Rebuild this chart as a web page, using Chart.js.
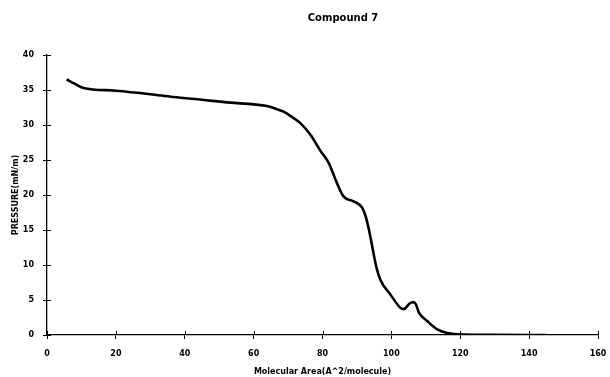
<!DOCTYPE html>
<html>
<head>
<meta charset="utf-8">
<script src="https://cdn.jsdelivr.net/npm/chart.js@4/dist/chart.umd.min.js"></script>
<style>
html,body{margin:0;padding:0;background:#fff;}
#wrap{width:610px;height:377px;position:relative;}
</style>
</head>
<body>
<div id="wrap"><canvas id="c" width="610" height="377"></canvas></div>
<script>
const chartTitle = "Compound 7";
const xAxisTitle = "Molecular Area(A^2/molecule)";
const yAxisTitle = "PRESSURE(mN/m)";
const xTicks = [0, 20, 40, 60, 80, 100, 120, 140, 160];
const yTicks = [0, 5, 10, 15, 20, 25, 30, 35, 40];
const area = [5.7, 8, 10.6, 20, 30, 36.6, 45, 53.2, 60, 63.9, 66.5, 68.7, 71, 73.5, 76.5, 79.4, 81.8, 84.2, 86.1, 89, 91.5, 92.5, 93.5, 94.5, 95.5, 96.8, 99.7, 102.6, 103.6, 105.3, 106.3, 107.1, 108, 110.4, 113.3, 116.2, 121, 130, 145];
const pressure = [36.5, 35.9, 35.3, 34.9, 34.4, 34.0, 33.6, 33.2, 32.95, 32.7, 32.3, 31.9, 31.2, 30.3, 28.6, 26.3, 24.6, 21.7, 19.8, 19.1, 18.2, 17.0, 15.0, 12.5, 10.0, 7.9, 5.8, 3.9, 3.7, 4.5, 4.7, 4.4, 3.2, 2.0, 0.8, 0.3, 0.07, 0.03, 0];

const FONT = "'DejaVu Sans', sans-serif";

const titlePlugin = {
  id: 'customTitle',
  afterDraw(chart) {
    const ctx = chart.ctx;
    ctx.save();
    ctx.fillStyle = '#000';
    ctx.font = "bold 10px " + FONT;
    ctx.textAlign = 'center';
    ctx.textBaseline = 'middle';
    ctx.fillText(chartTitle, 343, 18);
    ctx.restore();
  }
};

// inner half of the cross-shaped tick marks
const innerTicks = {
  id: 'innerTicks',
  afterDraw(chart) {
    const ctx = chart.ctx;
    const xs = chart.scales.x, ys = chart.scales.y;
    const a = chart.chartArea;
    ctx.save();
    ctx.strokeStyle = '#000';
    ctx.lineWidth = 1;
    ctx.beginPath();
    xTicks.forEach(v => { const p = Math.round(xs.getPixelForValue(v)) + 0.5; ctx.moveTo(p, a.bottom); ctx.lineTo(p, a.bottom - 4); });
    yTicks.forEach(v => { const p = Math.round(ys.getPixelForValue(v)) + 0.5; ctx.moveTo(a.left, p); ctx.lineTo(a.left + 4, p); });
    ctx.stroke();
    ctx.restore();
  }
};

new Chart(document.getElementById('c'), {
  type: 'line',
  data: {
    datasets: [{
      data: area.map((a, i) => ({x: a, y: pressure[i]})),
      borderColor: '#000',
      borderWidth: 2.6,
      pointRadius: 0,
      cubicInterpolationMode: 'monotone',
      fill: false
    }]
  },
  plugins: [titlePlugin, innerTicks],
  options: {
    responsive: false,
    animation: false,
    layout: { padding: { top: 55, right: 12, left: 11, bottom: 0 } },
    plugins: { legend: { display: false }, tooltip: { enabled: false } },
    scales: {
      x: {
        type: 'linear',
        min: 0, max: 160,
        afterBuildTicks(s) { s.ticks = xTicks.map(v => ({value: v})); },
        afterFit(s) { s.height = 42; s.paddingLeft = 0; s.paddingRight = 0; },
        grid: { drawOnChartArea: false, color: '#000', tickLength: 4 },
        border: { color: '#000', width: 1.3 },
        ticks: { color: '#000', font: { family: FONT, size: 8, weight: 'bold' }, padding: 10, maxRotation: 0 },
        title: { display: true, text: xAxisTitle, color: '#000', font: { family: FONT, size: 8, weight: 'bold' }, padding: { top: 0, bottom: 0 } }
      },
      y: {
        type: 'linear',
        min: 0, max: 40,
        afterBuildTicks(s) { s.ticks = yTicks.map(v => ({value: v})); },
        afterFit(s) { s.width = 36; s.paddingTop = 0; s.paddingBottom = 0; },
        grid: { drawOnChartArea: false, color: '#000', tickLength: 4 },
        border: { color: '#000', width: 1.3 },
        ticks: { color: '#000', font: { family: FONT, size: 8, weight: 'bold' }, padding: 9 },
        title: { display: true, text: yAxisTitle, color: '#000', font: { family: FONT, size: 8, weight: 'bold' }, padding: { top: 0, bottom: 0 } }
      }
    }
  }
});
</script>
</body>
</html>
